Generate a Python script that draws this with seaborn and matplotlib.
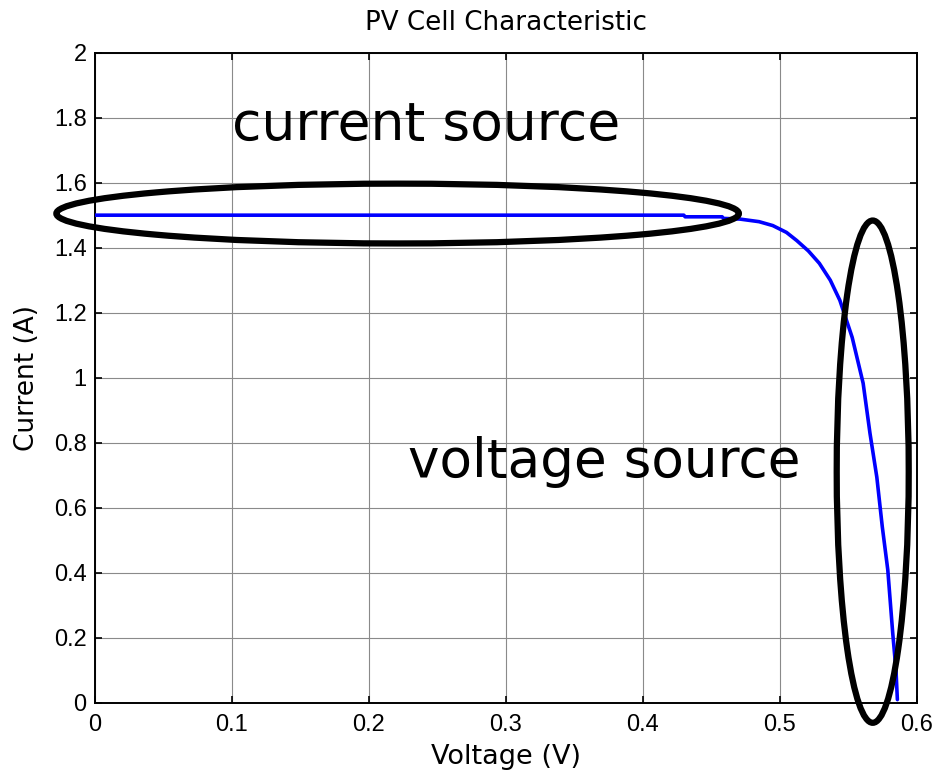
import matplotlib
matplotlib.use("Agg")
import matplotlib.pyplot as plt
from matplotlib.patches import Ellipse
import seaborn as sns
import pandas as pd

# Data
voltage = [0.0, 0.1, 0.2, 0.3, 0.4, 0.43, 0.431, 0.458, 0.459, 0.471, 0.485, 0.495,
           0.505, 0.5125, 0.521, 0.529, 0.537, 0.544, 0.553, 0.561, 0.566, 0.571,
           0.575, 0.579, 0.5826, 0.585, 0.586, 0.586]
current = [1.5, 1.5, 1.5, 1.5, 1.5, 1.5, 1.495, 1.495, 1.49, 1.488, 1.48, 1.468,
           1.447, 1.422, 1.39, 1.352, 1.30, 1.238, 1.124, 0.983, 0.829, 0.694,
           0.541, 0.409, 0.215, 0.10, 0.02, 0.0]

xticks = [0, 0.1, 0.2, 0.3, 0.4, 0.5, 0.6]
xticklabels = ["0", "0.1", "0.2", "0.3", "0.4", "0.5", "0.6"]
yticks = [0, 0.2, 0.4, 0.6, 0.8, 1.0, 1.2, 1.4, 1.6, 1.8, 2.0]
yticklabels = ["0", "0.2", "0.4", "0.6", "0.8", "1", "1.2", "1.4", "1.6", "1.8", "2"]

title = "PV Cell Characteristic"
xlabel = "Voltage (V)"
ylabel = "Current (A)"
label_current = "current source"
label_voltage = "voltage source"

sns.set_theme(style="whitegrid")
plt.rcParams['font.family'] = ['DejaVu Sans']
plt.rcParams['text.color'] = 'black'
plt.rcParams['axes.labelcolor'] = 'black'
plt.rcParams['xtick.color'] = 'black'
plt.rcParams['ytick.color'] = 'black'

df = pd.DataFrame({"Voltage": voltage, "Current": current})

fig = plt.figure(figsize=(9.41, 7.74), dpi=100)
ax = fig.add_axes([0.101, 0.092, 0.873, 0.840])

sns.lineplot(data=df, x="Voltage", y="Current", ax=ax, sort=False,
             color=(0, 0, 1), linewidth=2.6, zorder=3)

ax.set_xlim(0, 0.6)
ax.set_ylim(0, 2)
ax.set_xticks(xticks)
ax.set_xticklabels(xticklabels, fontfamily="Liberation Sans", fontsize=17)
ax.set_yticks(yticks)
ax.set_yticklabels(yticklabels, fontfamily="Liberation Sans", fontsize=17)

ax.set_facecolor("white")
ax.grid(True, color="#8a8a8a", linewidth=0.8, linestyle="-")
for s in ax.spines.values():
    s.set_visible(True)
    s.set_color("black")
    s.set_linewidth(1.4)

ax.tick_params(direction="in", length=5, width=1.2, colors="black",
               top=True, right=True, bottom=True, left=True, pad=6)
ax.tick_params(axis="x", pad=8)

ax.set_title(title, fontsize=18.8, pad=16, color="black")
ax.set_xlabel(xlabel, fontsize=19.5, labelpad=6, color="black")
ax.set_ylabel(ylabel, fontsize=19, labelpad=10, color="black")

ax.text(0.1, 1.776, label_current, fontsize=38.5, ha="left", va="center",
        color="black", zorder=5)
ax.text(0.2285, 0.740, label_voltage, fontsize=38.3, ha="left", va="center",
        color="black", zorder=5)

e1 = Ellipse((0.221, 1.505), 0.4985, 0.184, fill=False, edgecolor="black",
             linewidth=4.5, clip_on=False, zorder=6)
e2 = Ellipse((0.568, 0.711), 0.0526, 1.545, fill=False, edgecolor="black",
             linewidth=4.5, clip_on=False, zorder=6)
ax.add_patch(e1)
ax.add_patch(e2)

fig.savefig("out.png", dpi=100, facecolor="white")
